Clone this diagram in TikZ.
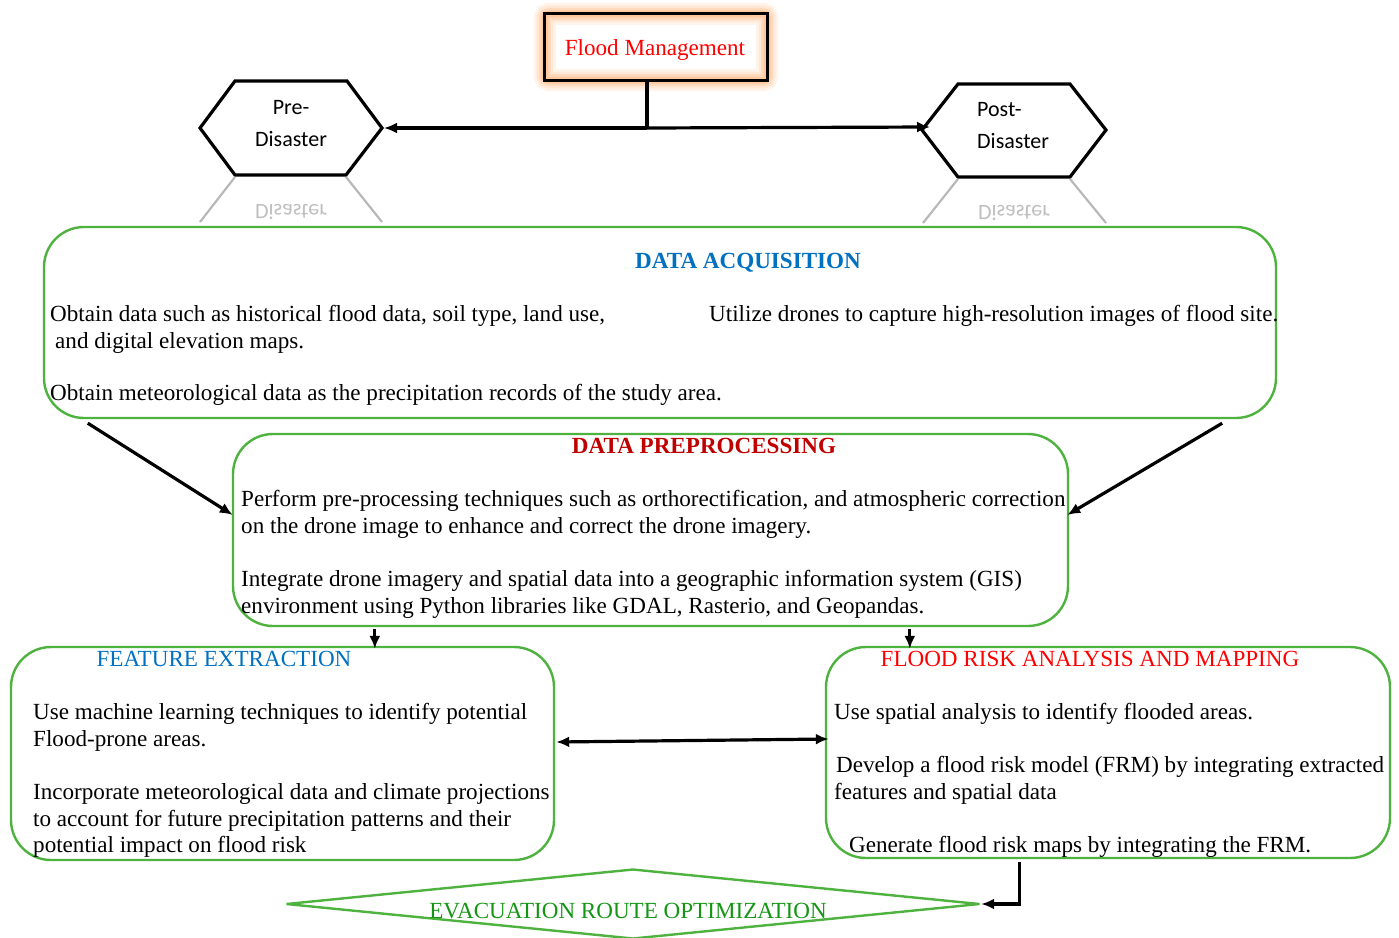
\documentclass[tikz,border=0pt]{standalone}
\usepackage{fontspec}
\usepackage{graphicx}
\setmainfont{Liberation Serif}
\newfontfamily\hexfont{Carlito}
\usetikzlibrary{arrows.meta,calc,shapes.geometric}

\definecolor{boxgreen}{RGB}{78,178,62}
\definecolor{titleblue}{RGB}{0,112,192}
\definecolor{titledarkred}{RGB}{192,0,0}
\definecolor{titlered}{RGB}{255,0,0}
\definecolor{evacgreen}{RGB}{20,150,20}
\definecolor{glow}{RGB}{255,150,70}

\begin{document}
\begin{tikzpicture}[x=1pt,y=-1pt,
  gbox/.style={draw=boxgreen, line width=2.4pt, rounded corners=40pt, inner sep=0pt},
  txt/.style={anchor=base west, inner sep=0pt, font=\fontsize{23.1}{27}\selectfont},
  ttl/.style={anchor=base, inner sep=0pt, font=\fontsize{23.1}{27}\selectfont},
  hextxt/.style={inner sep=0pt, font=\hexfont\fontsize{22}{26}\selectfont},
  hexline/.style={draw=black, line width=3.2pt, line join=miter},
  mirror/.style={draw=black!28, line width=2.2pt},
  arr/.style={draw=black, line width=3.2pt, -{Latex[length=13pt,width=11pt]}},
  plain/.style={draw=black, line width=3.2pt}]
\useasboundingbox (0,0) rectangle (1399,937);
\clip (0,0) rectangle (1399,937);

% ---------- Flood Management box with soft orange glow ----------
\node[minimum width=222pt, minimum height=66pt, inner sep=0pt] (fm) at (656,47) {};
\foreach \w/\o in {22/0.10,17/0.13,12/0.18,7/0.25}{
  \draw[glow, line width=\w pt, opacity=\o, rounded corners=4pt]
    (fm.north west) rectangle (fm.south east);
}
\draw[black, line width=2.8pt] (fm.north west) rectangle (fm.south east);
\node[inner sep=0pt, text=titlered, font=\fontsize{23.1}{27}\selectfont] (fmtxt) at (655,50) {Flood Management};

% ---------- Pre-Disaster hexagon ----------
\coordinate (pre-w) at (200,128);
\coordinate (pre-e) at (382,128);
\draw[hexline] (pre-w) -- (235,81) -- (347,81) -- (pre-e) -- (346,175) -- (235,175) -- cycle;
\node[hextxt, anchor=base] (pre1) at (291,114) {Pre-};
\node[hextxt, anchor=base] (pre2) at (291,146) {Disaster};
% reflection
\draw[mirror] (235,177) -- (200,222);
\draw[mirror] (346,177) -- (382,222);
\node[hextxt, text=black!25] (preref) at (291,212) {\scalebox{1}[-1]{Disaster}};

% ---------- Post-Disaster hexagon ----------
\coordinate (post-w) at (922,130);
\coordinate (post-e) at (1106,130);
\draw[hexline] (post-w) -- (958,84) -- (1070,84) -- (post-e) -- (1070,177) -- (958,177) -- cycle;
\node[hextxt, anchor=base west] (post1) at (977,116) {Post-};
\node[hextxt, anchor=base west] (post2) at (977,148) {Disaster};
% reflection
\draw[mirror] (958,179) -- (923,223);
\draw[mirror] (1070,179) -- (1106,223);
\node[hextxt, text=black!25] (postref) at (1014,213) {\scalebox{1}[-1]{Disaster}};

% ---------- connectors at the top ----------
\coordinate (bar) at (647,128);
\draw[plain] ($(fm.south)+(-9,0)$) -- (bar);
\draw[arr] (bar) -- ($(pre-e)+(2,0)$);
\draw[arr] (bar) -- ($(post-w)+(8,-3)$);

% ---------- Data acquisition ----------
\node[gbox, minimum width=1232pt, minimum height=191pt] (acq) at (660,322.5) {};
\node[ttl, text=titleblue, font=\bfseries\fontsize{23.1}{27}\selectfont] (acqt) at (748,268) {DATA ACQUISITION};
\node[txt] (acq1) at (50,321) {Obtain data such as historical flood data, soil type, land use,};
\node[txt] (acq2) at (55,348) {and digital elevation maps.};
\node[txt] (acq3) at (709,321) {Utilize drones to capture high-resolution images of flood site.};
\node[txt] (acq4) at (50,400) {Obtain meteorological data as the precipitation records of the study area.};

% ---------- Data preprocessing ----------
\node[gbox, minimum width=835pt, minimum height=192pt] (prep) at (650.5,530) {};
\node[ttl, text=titledarkred, font=\bfseries\fontsize{23.1}{27}\selectfont] (prept) at (704,453) {DATA PREPROCESSING};
\node[txt] (prep1) at (241,506) {Perform pre-processing techniques such as orthorectification, and atmospheric correction};
\node[txt] (prep2) at (241,533) {on the drone image to enhance and correct the drone imagery.};
\node[txt] (prep3) at (241,586) {Integrate drone imagery and spatial data into a geographic information system (GIS)};
\node[txt] (prep4) at (241,613) {environment using Python libraries like GDAL, Rasterio, and Geopandas.};

\draw[arr] ($(acq.south west)+(45,4)$) -- ($(prep.west)+(1,-15)$);
\draw[arr] ($(acq.south east)+(-55,4)$) -- ($(prep.east)+(-2,-15)$);

% ---------- Feature extraction ----------
\node[gbox, minimum width=543pt, minimum height=213pt] (fe) at (282.5,753.5) {};
\node[ttl, text=titleblue] (fet) at (224,666) {FEATURE EXTRACTION};
\node[txt] (fe1) at (33,719) {Use machine learning techniques to identify potential};
\node[txt] (fe2) at (33,746) {Flood-prone areas.};
\node[txt] (fe3) at (33,799) {Incorporate meteorological data and climate projections};
\node[txt] (fe4) at (33,826) {to account for future precipitation patterns and their};
\node[txt] (fe5) at (33,852) {potential impact on flood risk};

% ---------- Flood risk analysis ----------
\node[gbox, minimum width=564pt, minimum height=211pt] (fr) at (1108,752.5) {};
\node[ttl, text=titlered] (frt) at (1090,666) {FLOOD RISK ANALYSIS AND MAPPING};
\node[txt] (fr1) at (834,719) {Use spatial analysis to identify flooded areas.};
\node[txt] (fr2) at (836,772) {Develop a flood risk model (FRM) by integrating extracted};
\node[txt] (fr3) at (834,799) {features and spatial data};
\node[txt] (fr4) at (849,852) {Generate flood risk maps by integrating the FRM.};

\draw[arr] ($(prep.south west)+(143,2)$) -- ($(fe.north west)+(365,3)$);
\draw[arr] ($(prep.south west)+(678,2)$) -- ($(fr.north west)+(85,3)$);
\draw[arr, {Latex[length=13pt,width=11pt]}-{Latex[length=13pt,width=11pt]}]
  ($(fe.east)+(1,-11.5)$) -- ($(fr.west)+(4,-13.5)$);

% ---------- Evacuation route optimization ----------
\node[diamond, draw=boxgreen, line width=2.4pt, minimum width=694pt, minimum height=70pt, inner sep=0pt] (ev) at (633,904) {};
\node[ttl, text=evacgreen] (evt) at (628,918) {EVACUATION ROUTE OPTIMIZATION};
\draw[arr] ($(fr.south west)+(195,3)$) |- (ev.east);
\end{tikzpicture}
\end{document}
